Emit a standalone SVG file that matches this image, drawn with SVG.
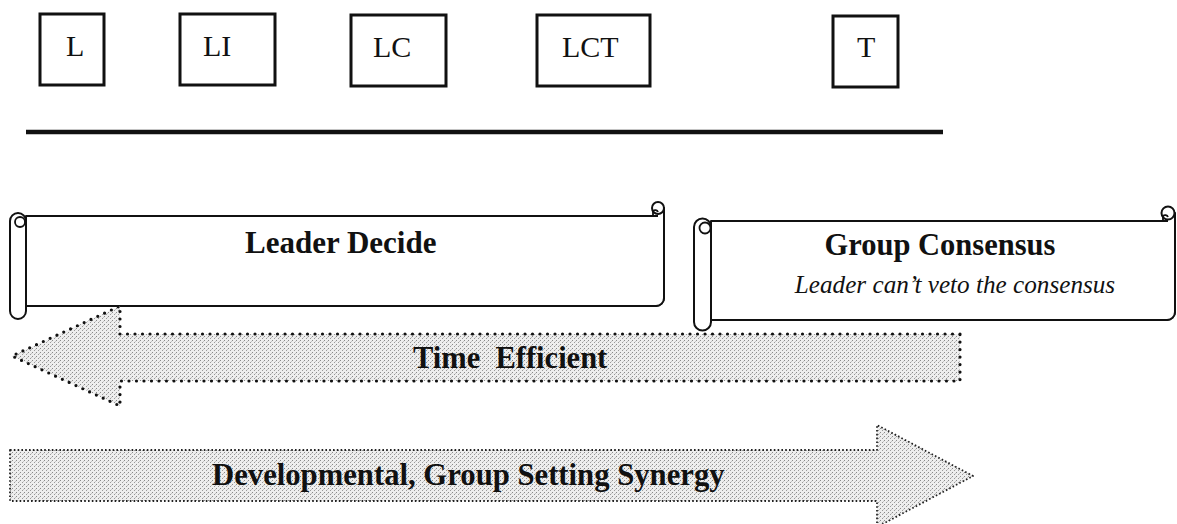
<svg xmlns="http://www.w3.org/2000/svg" width="1177" height="524" viewBox="0 0 1177 524">
<style>
.box{fill:#fff;stroke:#111;stroke-width:3}
.lbl{font-family:"Liberation Serif","Times New Roman",serif;font-size:30px;fill:#111}
.bold{font-family:"Liberation Serif","Times New Roman",serif;font-weight:bold;fill:#111}
.ital{font-family:"Liberation Serif","Times New Roman",serif;font-style:italic;fill:#111}
.scroll{fill:#fff;stroke:#111;stroke-width:2;stroke-linejoin:round}
.curl{fill:none;stroke:#111;stroke-width:1.8}
.arrowA{fill:url(#dither);stroke:#111;stroke-width:3.2;stroke-dasharray:0 7.5;stroke-linecap:round;stroke-linejoin:round}
.arrowB{fill:url(#dither);stroke:#222;stroke-width:1.8;stroke-dasharray:1.6 2.2;stroke-linejoin:round}
</style>
<defs>
<pattern id="dither" width="4" height="4" patternUnits="userSpaceOnUse">
<rect width="4" height="4" fill="#eeeeee"/>
<rect x="0" y="0" width="1" height="1" fill="#8a8a8a"/>
<rect x="2" y="2" width="1" height="1" fill="#9a9a9a"/>
<rect x="3" y="1" width="1" height="1" fill="#c4c4c4"/>
</pattern>
</defs>
<rect width="1177" height="524" fill="#fff"/>

<g id="node-L"><rect class="box" x="40" y="14" width="64" height="71"/><text class="lbl" x="66" y="56">L</text></g>
<g id="node-LI"><rect class="box" x="180" y="14" width="95" height="71"/><text class="lbl" x="203" y="56">LI</text></g>
<g id="node-LC"><rect class="box" x="351" y="15" width="95" height="71"/><text class="lbl" x="373" y="57">LC</text></g>
<g id="node-LCT"><rect class="box" x="537" y="15" width="113" height="71"/><text class="lbl" x="562" y="57">LCT</text></g>
<g id="node-T"><rect class="box" x="833" y="16" width="65" height="71"/><text class="lbl" x="857" y="57">T</text></g>

<g id="axis"><line x1="26" y1="132" x2="943" y2="132" stroke="#111" stroke-width="4.5"/></g>

<g id="scroll-leader">
<path class="scroll" d="M26 216 H658 V208 H664 V298 A8 8 0 0 1 656 306 H26 Z" stroke="none"/>
<path class="scroll" d="M26 216 H658 M664 208 V298 A8 8 0 0 1 656 306 H26" fill="none"/>
<circle class="scroll" cx="658" cy="208" r="6"/>
<path class="curl" d="M653 216 V211 A3 3 0 0 1 658 212"/>
<path class="scroll" d="M10 221 A8 8 0 0 1 26 221 V311 A8 8 0 0 1 10 311 Z"/>
<circle class="curl" cx="20" cy="222" r="5"/>
<text class="bold" x="245" y="253" font-size="31">Leader Decide</text>
</g>

<g id="scroll-group">
<path class="scroll" d="M711 221 H1168 V213 H1175 V312 A8 8 0 0 1 1167 320 H711 Z" stroke="none"/>
<path class="scroll" d="M711 221 H1168 M1175 213 V312 A8 8 0 0 1 1167 320 H711" fill="none"/>
<circle class="scroll" cx="1168" cy="213" r="6.5"/>
<path class="curl" d="M1163 221 V216 A3 3 0 0 1 1168 217"/>
<path class="scroll" d="M694 227 A8.5 8.5 0 0 1 711 227 V322 A8.5 8.5 0 0 1 694 322 Z"/>
<circle class="curl" cx="705" cy="228" r="5.5"/>
<text class="bold" x="940" y="255" font-size="30.5" text-anchor="middle">Group Consensus</text>
<text class="ital" x="955" y="293" font-size="25.2" text-anchor="middle">Leader can’t veto the consensus</text>
</g>

<g id="connectors">
<g id="arrow-time">
<polygon class="arrowA" points="960,334 120,334 120,306 12,356 120,406 120,381 960,381"/>
<text class="bold" x="413" y="368" font-size="30.5" style="white-space:pre" xml:space="preserve">Time  Efficient</text>
</g>
<g id="arrow-dev">
<polygon class="arrowB" points="10,450 877,450 877,425 973,476 877,527 877,501 10,501"/>
<text class="bold" x="212" y="485" font-size="30.7">Developmental, Group Setting Synergy</text>
</g>
</g>
</svg>
